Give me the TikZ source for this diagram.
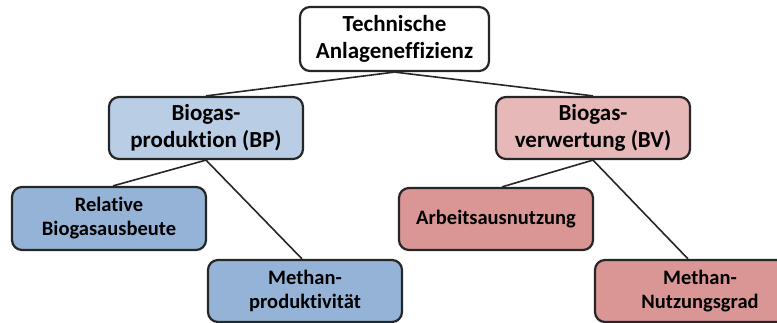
\documentclass[tikz,border=0pt]{standalone}
\usepackage{fontspec}
\setmainfont[Ligatures={NoCommon}]{Carlito}
\definecolor{bplight}{HTML}{B9CDE5}
\definecolor{bpdark}{HTML}{95B3D7}
\definecolor{bvlight}{HTML}{E6B9B8}
\definecolor{bvdark}{HTML}{D99694}
\begin{document}
\begin{tikzpicture}[x=1pt,y=1pt,
  box/.style={draw=black!85, line width=2.2pt, rounded corners=10pt, align=center,
    inner sep=0pt, minimum width=194pt, minimum height=62pt, font=\bfseries\fontsize{23}{27}\selectfont},
  small/.style={font=\bfseries\fontsize{20.5}{24}\selectfont},
  conn/.style={line width=1.6pt, black!85}]
\clip (0,0) rectangle (777,323);
\useasboundingbox (0,0) rectangle (777,323);
\node[box, fill=white, minimum width=189pt, minimum height=64pt] (top) at (394.5,284) {Technische\\Anlageneffizienz};
\node[box, fill=bplight] (bp) at (206,195) {Biogas-\\produktion (BP)};
\node[box, fill=bvlight] (bv) at (593,195) {Biogas-\\verwertung (BV)};
\node[box, small, fill=bpdark, minimum height=63pt] (rel) at (109,104.5) {Relative\\Biogasausbeute};
\node[box, small, fill=bpdark] (mp) at (305,32) {Methan-\\produktivität};
\node[box, small, fill=bvdark] (arb) at (496,104) {Arbeitsausnutzung};
\node[box, small, fill=bvdark, minimum width=210pt] (mn) at (700,32) {Methan-\\Nutzungsgrad};
\draw[conn] (top.south) -- (bp.north);
\draw[conn] (top.south) -- (bv.north);
\draw[conn] (bp.south) -- ([xshift=4pt]rel.north);
\draw[conn] (bp.south) -- ([xshift=-3pt]mp.north);
\draw[conn] (bv.south) -- ([xshift=6pt]arb.north);
\draw[conn] (bv.south) -- ([xshift=-12pt]mn.north);
\end{tikzpicture}
\end{document}
